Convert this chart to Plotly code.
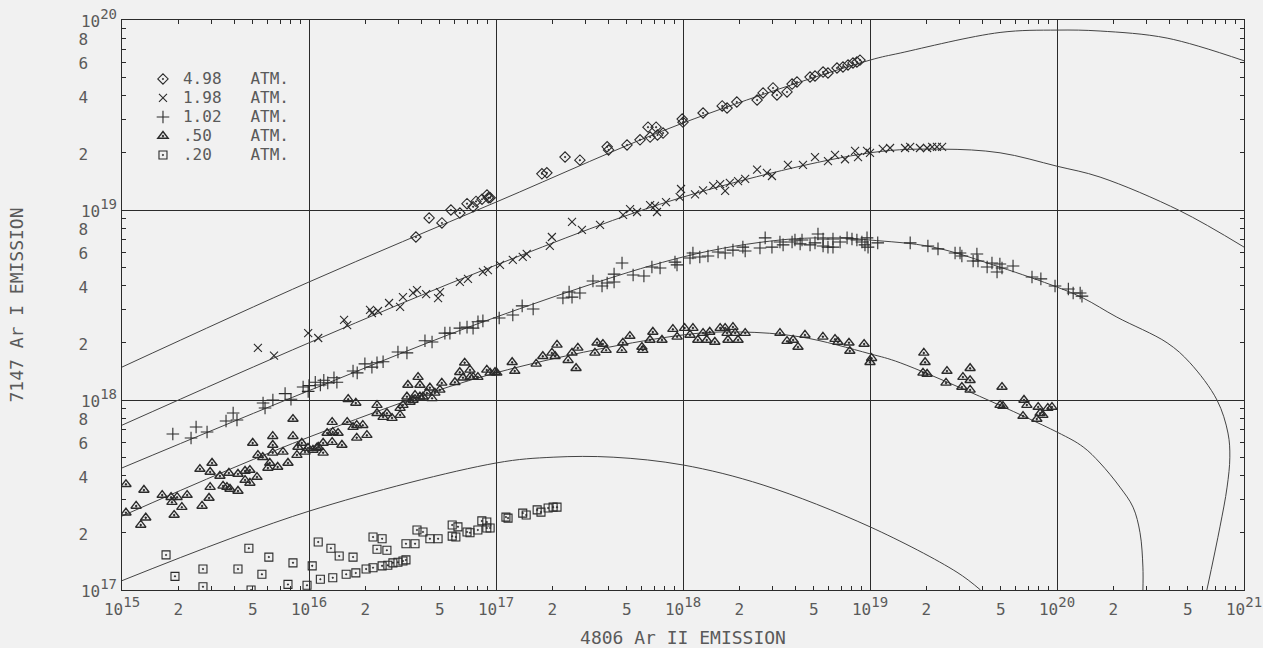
import plotly.graph_objects as go

INK = "#2b2b2b"
TXT = "#5a5a5a"
BG = "#f1f1f1"
FONT = "DejaVu Sans Mono"

# ---------------- measured points ----------------
x_498 = [3.73e16, 4.39e16, 5.14e16, 5.74e16, 6.41e16, 7.0e16, 7.54e16, 7.82e16, 8.42e16, 8.95e16,
         9.1e16, 9.3e16, 1.76e17, 1.87e17, 2.34e17, 2.81e17, 3.93e17, 4.0e17, 5.02e17, 5.89e17,
         6.5e17, 7.18e17, 6.67e17, 7.3e17, 7.82e17, 9.9e17, 1.0e18, 1.28e18, 1.62e18, 1.72e18,
         1.94e18, 2.49e18, 2.68e18, 3.03e18, 3.18e18, 3.6e18, 3.83e18, 4.07e18, 4.78e18, 5.08e18,
         5.61e18, 5.96e18, 6.66e18, 7.17e18, 7.63e18, 8.11e18, 8.51e18, 8.84e18]
y_498 = [7.21e18, 9.08e18, 8.55e18, 1.0e19, 9.64e18, 1.08e19, 1.04e19, 1.11e19, 1.14e19, 1.2e19,
         1.16e19, 1.16e19, 1.55e19, 1.57e19, 1.90e19, 1.83e19, 2.15e19, 2.07e19, 2.2e19, 2.34e19,
         2.73e19, 2.73e19, 2.42e19, 2.48e19, 2.54e19, 3.01e19, 2.9e19, 3.24e19, 3.53e19, 3.44e19,
         3.7e19, 3.79e19, 4.13e19, 4.39e19, 4.03e19, 4.18e19, 4.6e19, 4.72e19, 5.01e19, 5.07e19,
         5.32e19, 5.26e19, 5.59e19, 5.66e19, 5.8e19, 5.94e19, 6.01e19, 6.15e19]

x_198 = [5.33e15, 6.5e15, 9.9e15, 1.12e16, 1.54e16, 1.6e16, 2.12e16, 2.17e16, 2.34e16, 2.68e16,
         3.07e16, 3.18e16, 3.6e16, 3.78e16, 4.23e16, 4.9e16, 5.02e16, 6.41e16, 7.08e16, 8.51e16,
         9.05e16, 1.05e17, 1.23e17, 1.39e17, 1.46e17, 1.99e17, 1.94e17, 2.55e17, 2.88e17, 3.6e17,
         4.78e17, 5.21e17, 5.68e17, 6.67e17, 7.08e17, 7.26e17, 8.11e17, 9.76e17, 9.6e17, 1.16e18,
         1.28e18, 1.45e18, 1.58e18, 1.68e18, 1.78e18, 1.97e18, 2.15e18, 2.49e18, 2.81e18, 2.99e18,
         3.64e18, 4.38e18, 5.08e18, 5.96e18, 6.5e18, 7.35e18, 8.32e18, 8.63e18, 9.64e18, 1.0e19,
         1.17e19, 1.28e19, 1.54e19, 1.64e19, 1.85e19, 2.02e19, 2.15e19, 2.28e19, 2.43e19]
y_198 = [1.88e18, 1.71e18, 2.25e18, 2.12e18, 2.64e18, 2.48e18, 2.98e18, 2.87e18, 2.94e18, 3.24e18,
         3.09e18, 3.48e18, 3.66e18, 3.79e18, 3.61e18, 3.44e18, 3.7e18, 4.18e18, 4.34e18, 4.72e18,
         4.83e18, 5.14e18, 5.46e18, 5.66e18, 5.87e18, 7.21e18, 6.47e18, 8.65e18, 7.85e18, 8.34e18,
         9.42e18, 1.01e19, 9.76e18, 1.06e19, 1.05e19, 9.76e18, 1.10e19, 1.29e19, 1.17e19, 1.21e19,
         1.27e19, 1.34e19, 1.37e19, 1.26e19, 1.39e19, 1.42e19, 1.46e19, 1.63e19, 1.57e19, 1.51e19,
         1.73e19, 1.73e19, 1.9e19, 1.81e19, 1.95e19, 1.85e19, 2.05e19, 1.9e19, 2.05e19, 2.0e19,
         2.1e19, 2.12e19, 2.12e19, 2.15e19, 2.12e19, 2.12e19, 2.15e19, 2.15e19, 2.15e19]

x_102 = [1.87e15, 2.34e15, 2.49e15, 2.85e15, 3.6e15, 3.93e15, 4.12e15, 5.68e15, 5.82e15, 6.41e15,
         7.45e15, 8.01e15, 9.3e15, 9.9e15, 1.0e16, 1.08e16, 1.15e16, 1.2e16, 1.26e16, 1.36e16,
         1.41e16, 1.72e16, 1.81e16, 1.99e16, 2.17e16, 2.31e16, 2.49e16, 2.99e16, 3.34e16, 4.17e16,
         4.55e16, 5.33e16, 5.67e16, 6.41e16, 7.0e16, 7.54e16, 8.01e16, 8.51e16, 1.04e17, 1.23e17,
         1.38e17, 1.58e17, 2.28e17, 2.46e17, 2.55e17, 2.81e17, 3.3e17, 3.69e17, 3.93e17, 4.28e17,
         4.28e17, 4.72e17, 5.41e17, 6.18e17, 6.82e17, 7.54e17, 9.06e17, 9.29e17, 1.09e18, 1.13e18,
         1.23e18, 1.36e18, 1.54e18, 1.68e18, 1.85e18, 2.09e18, 2.15e18, 2.58e18, 2.75e18, 2.99e18,
         3.3e18, 3.43e18, 3.83e18, 3.97e18, 4.33e18, 4.23e18, 4.78e18, 5.08e18, 5.27e18, 5.61e18,
         5.61e18, 5.96e18, 6.34e18, 6.34e18, 6.92e18, 7.54e18, 8.01e18, 8.51e18, 9.05e18, 9.4e18,
         9.64e18, 9.76e18, 1.1e19, 1.64e19, 2.04e19, 2.31e19, 2.85e19, 3.03e19, 3.1e19, 3.73e19,
         3.56e19, 3.78e19, 4.49e19, 4.23e19, 4.78e19, 4.95e19, 5.08e19, 5.82e19, 7.35e19, 8.2e19,
         9.76e19, 1.15e20, 1.22e20, 1.33e20, 1.36e20]
y_102 = [6.62e17, 6.31e17, 7.21e17, 6.79e17, 7.75e17, 8.55e17, 7.85e17, 9.64e17, 9.08e17, 1.0e18,
         1.08e18, 1.01e18, 1.17e18, 1.11e18, 1.19e18, 1.24e18, 1.2e18, 1.27e18, 1.23e18, 1.31e18,
         1.24e18, 1.42e18, 1.39e18, 1.55e18, 1.49e18, 1.57e18, 1.59e18, 1.79e18, 1.77e18, 2.05e18,
         2.02e18, 2.25e18, 2.25e18, 2.39e18, 2.42e18, 2.39e18, 2.58e18, 2.61e18, 2.7e18, 2.8e18,
         3.13e18, 3.01e18, 3.44e18, 3.7e18, 3.48e18, 3.66e18, 4.23e18, 3.98e18, 4.13e18, 4.18e18,
         4.6e18, 5.26e18, 4.55e18, 4.49e18, 5.01e18, 4.95e18, 5.32e18, 5.14e18, 5.59e18, 5.94e18,
         5.66e18, 5.73e18, 6.01e18, 5.94e18, 6.15e18, 6.38e18, 6.08e18, 6.31e18, 7.13e18, 6.38e18,
         6.79e18, 6.55e18, 6.79e18, 6.95e18, 6.95e18, 6.63e18, 6.55e18, 6.71e18, 7.48e18, 7.04e18,
         6.47e18, 6.38e18, 7.04e18, 6.38e18, 6.79e18, 7.13e18, 7.04e18, 6.95e18, 6.79e18, 6.55e18,
         7.13e18, 6.38e18, 6.71e18, 6.71e18, 6.47e18, 6.24e18, 5.94e18, 5.94e18, 5.73e18, 5.87e18,
         5.39e18, 5.39e18, 5.26e18, 5.01e18, 4.72e18, 5.2e18, 4.95e18, 5.07e18, 4.44e18, 4.34e18,
         3.98e18, 3.84e18, 3.66e18, 3.66e18, 3.52e18]

x_050 = [1.05e15, 1.05e15, 1.19e15, 1.26e15, 1.31e15, 1.34e15, 1.64e15, 1.83e15, 1.85e15, 1.9e15,
         1.97e15, 2.09e15, 2.23e15, 2.61e15, 2.68e15, 2.96e15, 2.92e15, 2.96e15, 3.03e15, 3.34e15,
         3.47e15, 3.64e15, 3.78e15, 3.73e15, 4.17e15, 4.17e15, 4.55e15, 4.55e15, 4.83e15, 4.83e15,
         5.0e15, 5.27e15, 5.33e15, 5.66e15, 6.03e15, 6.17e15, 6.4e15, 6.4e15, 6.4e15, 6.8e15,
         7.26e15, 7.72e15, 8.21e15, 8.21e15, 8.62e15, 8.73e15, 9.15e15, 9.52e15, 9.88e15, 1.05e16,
         1.12e16, 1.1e16, 1.19e16, 1.19e16, 1.25e16, 1.33e16, 1.34e16, 1.43e16, 1.5e16, 1.6e16,
         1.8e16, 1.8e16, 2.04e16, 1.33e16, 1.62e16, 1.78e16, 1.72e16, 1.94e16, 2.31e16, 2.31e16,
         2.49e16, 2.61e16, 2.78e16, 3.07e16, 3.07e16, 3.18e16, 3.34e16, 3.38e16, 3.47e16, 3.6e16,
         3.69e16, 3.83e16, 3.92e16, 3.92e16, 4.07e16, 4.27e16, 4.43e16, 4.55e16, 4.71e16, 5.13e16,
         5.01e16, 6.03e16, 6.4e16, 6.66e16, 6.8e16, 7.26e16, 7.26e16, 7.55e16, 8.0e16, 8.93e16,
         9.3e16, 9.88e16, 1.01e17, 1.22e17, 1.26e17, 1.64e17, 1.78e17, 1.99e17, 2.07e17, 2.12e17,
         2.43e17, 2.55e17, 2.68e17, 2.74e17, 3.38e17, 3.47e17, 3.73e17, 3.88e17, 4.71e17, 4.77e17,
         5.2e17, 6.03e17, 6.1e17, 6.66e17, 6.9e17, 7.72e17, 8.83e17, 9.3e17, 1.02e18, 1.09e18,
         1.13e18, 1.2e18, 1.28e18, 1.34e18, 1.39e18, 1.48e18, 1.58e18, 1.68e18, 1.72e18, 1.74e18,
         1.85e18, 1.9e18, 1.97e18, 2.15e18, 3.3e18, 3.6e18, 3.88e18, 4.12e18, 4.49e18, 5.6e18,
         6.5e18, 6.74e18, 7.72e18, 7.8e18, 9.3e18, 1.0e19, 1.02e19, 1.94e19, 1.97e19, 1.92e19,
         2.02e19, 2.58e19, 2.55e19, 3.14e19, 3.1e19, 3.43e19, 3.43e19, 3.43e19, 5.08e19, 4.96e19,
         5.14e19, 6.66e19, 6.9e19, 6.58e19, 7.93e19, 8.12e19, 7.8e19, 8.4e19, 8.93e19, 9.4e19]
y_050 = [3.6e17, 2.55e17, 2.77e17, 2.2e17, 3.36e17, 2.4e17, 3.16e17, 3.08e17, 2.9e17, 2.48e17,
         3.08e17, 2.73e17, 3.16e17, 4.33e17, 2.77e17, 4.18e17, 3.05e17, 3.48e17, 4.66e17, 3.98e17,
         3.53e17, 3.48e17, 3.4e17, 4.13e17, 4.08e17, 3.32e17, 4.23e17, 3.79e17, 4.28e17, 3.66e17,
         5.94e17, 3.93e17, 5.13e17, 5.0e17, 4.39e17, 4.66e17, 6.45e17, 5.8e17, 5.27e17, 4.44e17,
         5.33e17, 4.66e17, 7.94e17, 6.45e17, 5.13e17, 5.66e17, 5.94e17, 5.33e17, 5.59e17, 5.46e17,
         5.66e17, 5.59e17, 5.27e17, 5.94e17, 6.7e17, 6.0e17, 6.78e17, 6.7e17, 5.8e17, 7.65e17,
         6.32e17, 7.37e17, 6.53e17, 7.65e17, 1.01e18, 9.65e17, 7.2e17, 7.37e17, 9.4e17, 8.52e17,
         8.13e17, 8.52e17, 8.03e17, 8.33e17, 9.06e17, 9.4e17, 1.04e18, 1.2e18, 9.76e17, 1.0e18,
         1.06e18, 1.32e18, 1.2e18, 1.04e18, 1.04e18, 1.09e18, 1.16e18, 1.02e18, 1.09e18, 1.23e18,
         1.13e18, 1.24e18, 1.4e18, 1.31e18, 1.57e18, 1.44e18, 1.32e18, 1.32e18, 1.32e18, 1.44e18,
         1.39e18, 1.4e18, 1.39e18, 1.58e18, 1.42e18, 1.55e18, 1.7e18, 1.77e18, 1.7e18, 1.95e18,
         1.62e18, 1.77e18, 1.47e18, 1.88e18, 1.77e18, 2.0e18, 1.97e18, 1.83e18, 1.83e18, 2.0e18,
         2.17e18, 1.9e18, 1.83e18, 2.07e18, 2.28e18, 2.07e18, 2.36e18, 2.15e18, 2.39e18, 2.2e18,
         2.39e18, 2.07e18, 2.25e18, 2.07e18, 2.28e18, 2.02e18, 2.39e18, 2.39e18, 2.25e18, 2.07e18,
         2.42e18, 2.25e18, 2.07e18, 2.25e18, 2.25e18, 2.04e18, 2.07e18, 1.9e18, 2.2e18, 2.15e18,
         2.09e18, 2.02e18, 2.0e18, 1.81e18, 1.97e18, 1.58e18, 1.66e18, 1.77e18, 1.58e18, 1.39e18,
         1.37e18, 1.42e18, 1.23e18, 1.32e18, 1.17e18, 1.47e18, 1.27e18, 1.13e18, 1.17e18, 9.4e17,
         9.29e17, 1.0e18, 9.4e17, 8.23e17, 9.18e17, 8.52e17, 7.94e17, 8.33e17, 9.06e17, 9.18e17]

x_020 = [1.72e15, 1.92e15, 2.71e15, 2.71e15, 4.17e15, 4.77e15, 4.9e15, 5.6e15, 6.1e15, 7.72e15,
         8.21e15, 9.76e15, 1.04e16, 1.12e16, 1.15e16, 1.31e16, 1.34e16, 1.45e16, 1.58e16, 1.72e16,
         1.78e16, 2.02e16, 2.2e16, 2.2e16, 2.31e16, 2.46e16, 2.46e16, 2.61e16, 2.64e16, 2.81e16,
         2.99e16, 3.18e16, 3.3e16, 3.3e16, 3.69e16, 3.78e16, 4.07e16, 4.43e16, 4.9e16, 5.83e16,
         5.83e16, 6.1e16, 6.26e16, 7.0e16, 7.26e16, 8.0e16, 8.4e16, 8.93e16, 8.93e16, 9.3e16,
         1.13e17, 1.16e17, 1.39e17, 1.45e17, 1.66e17, 1.74e17, 1.9e17, 2.02e17, 2.12e17]
y_020 = [1.53e17, 1.18e17, 1.29e17, 1.04e17, 1.29e17, 1.66e17, 1.0e17, 1.21e17, 1.49e17, 1.07e17,
         1.39e17, 1.06e17, 1.34e17, 1.79e17, 1.14e17, 1.66e17, 1.16e17, 1.51e17, 1.21e17, 1.49e17,
         1.23e17, 1.29e17, 1.9e17, 1.31e17, 1.64e17, 1.86e17, 1.34e17, 1.62e17, 1.35e17, 1.39e17,
         1.4e17, 1.42e17, 1.44e17, 1.75e17, 1.75e17, 2.07e17, 2.02e17, 1.86e17, 1.86e17, 2.2e17,
         1.92e17, 1.9e17, 2.15e17, 2.02e17, 2.0e17, 2.07e17, 2.31e17, 2.28e17, 2.12e17, 2.12e17,
         2.42e17, 2.39e17, 2.54e17, 2.48e17, 2.64e17, 2.57e17, 2.7e17, 2.73e17, 2.73e17]

# ---------------- theoretical curves ----------------
curve_498_x = [1e15, 1.0e16, 1e17, 1e18, 1e19, 1.45e19, 4.96e19, 1e20, 1.7e20, 3.88e20, 1e21]
curve_498_y = [1.49e18, 4.18e18, 1.1e19, 2.87e19, 6.15e19, 6.7e19, 8.6e19, 8.85e19, 8.75e19, 8.03e19, 6.1e19]

curve_198_x = [1e15, 1e16, 1e17, 1e18, 1e19, 2.43e19, 4.96e19, 1e20, 1.7e20, 4.55e20, 1e21]
curve_198_y = [7.37e17, 2.0e18, 5.13e18, 1.17e19, 2.0e19, 2.09e19, 2.0e19, 1.7e19, 1.49e19, 9.9e18, 6.38e18]

curve_102_x = [1e15, 1e16, 1e17, 1e18, 3.3e18, 6.9e18, 1e19, 2.17e19, 4.96e19, 1e20, 1.38e20,
               2.09e20, 3.88e20, 5.14e20, 7.17e20, 8.21e20, 8.4e20, 8.12e20, 7.44e20, 6.33e20]
curve_102_y = [4.39e17, 1.12e18, 2.73e18, 5.66e18, 6.95e18, 7.13e18, 6.95e18, 6.38e18, 5.0e18, 3.93e18, 3.44e18,
               2.73e18, 2.0e18, 1.57e18, 1.0e18, 6.7e17, 5.0e17, 3.48e17, 2.15e17, 1.0e17]

curve_050_x = [1e15, 1e16, 1e17, 1e18, 2.02e18, 4.23e18, 1e19, 1.45e19, 1e20, 1.38e20, 1.7e20,
               2.17e20, 2.55e20, 2.78e20, 2.88e20, 2.88e20]
curve_050_y = [2.45e17, 6.38e17, 1.39e18, 2.2e18, 2.28e18, 2.15e18, 1.75e18, 1.57e18, 6.78e17, 5.66e17, 4.66e17,
               3.48e17, 2.73e17, 2.0e17, 1.32e17, 1.0e17]

curve_020_x = [1e15, 1e16, 1e17, 2.02e17, 4.23e17, 1e18, 2.68e18, 1e19, 2.92e19, 3.9e19]
curve_020_y = [1.12e17, 2.6e17, 4.66e17, 5.0e17, 5.0e17, 4.55e17, 3.57e17, 2.15e17, 1.24e17, 1.0e17]

series_values = ["4.98", "1.98", "1.02", ".50", ".20"]
series_unit = "ATM."

# ---------------- figure ----------------
fig = go.Figure()

for cx, cy in [(curve_498_x, curve_498_y), (curve_198_x, curve_198_y), (curve_102_x, curve_102_y),
               (curve_050_x, curve_050_y), (curve_020_x, curve_020_y)]:
    fig.add_trace(go.Scatter(x=cx, y=cy, mode="lines", showlegend=False, hoverinfo="skip",
                             line=dict(color="#444444", width=1, shape="spline", smoothing=1.0)))

NB = "\u00a0"
styles = [("diamond-open-dot", 8, 1.1), ("x-thin-open", 8, 1.1), ("cross-thin-open", 9, 1.1),
          ("triangle-up-open-dot", 9, 1.4), ("square-open-dot", 8, 1.1)]
for (sx, sy), val, (sym, size, lw) in zip(
        [(x_498, y_498), (x_198, y_198), (x_102, y_102), (x_050, y_050), (x_020, y_020)],
        series_values, styles):
    label = val + NB * (7 - len(val)) + series_unit
    fig.add_trace(go.Scatter(x=sx, y=sy, mode="markers",
                             name=f"<span style='font-size:16px'>{label}</span>",
                             marker=dict(symbol=sym, size=size, color=INK,
                                         line=dict(color=INK, width=lw))))

# overlay axes carrying the decade grid
fig.add_trace(go.Scatter(x=[], y=[], xaxis="x2", yaxis="y2", showlegend=False, hoverinfo="skip"))

x_decades = list(range(15, 22))
y_decades = list(range(17, 21))


def sup_label(d):
    return f"<span style='font-size:16px'>10</span><sup>{d}</sup>"


def plain_label(s):
    return f"<span style='font-size:16px'>{s}</span>"


x_tickvals, x_ticktext, x_minor = [], [], []
for d in x_decades:
    x_tickvals.append(10.0 ** d)
    x_ticktext.append(sup_label(d))
    if d == x_decades[-1]:
        break
    for m in range(2, 10):
        if m in (2, 5):
            x_tickvals.append(m * 10.0 ** d)
            x_ticktext.append(plain_label(str(m)))
        else:
            x_minor.append(m * 10.0 ** d)

y_tickvals, y_ticktext, y_minor = [], [], []
for d in y_decades:
    y_tickvals.append(10.0 ** d)
    y_ticktext.append(sup_label(d))
    if d == y_decades[-1]:
        break
    for m in range(2, 10):
        if m in (2, 4, 6, 8):
            y_tickvals.append(m * 10.0 ** d)
            y_ticktext.append(plain_label(str(m) + NB * 3))
        else:
            y_minor.append(m * 10.0 ** d)

tickfont = dict(family=FONT, size=20, color=TXT)
titlefont = dict(family=FONT, size=18, color=TXT)

common = dict(type="log", tickmode="array", ticks="inside", ticklen=4, tickwidth=1, tickcolor=INK,
              showgrid=False, zeroline=False, showline=True, linecolor=INK, linewidth=1,
              mirror="ticks", tickfont=tickfont, automargin=False)

fig.update_layout(
    width=1263, height=648,
    margin=dict(l=122, r=19, t=20, b=58, autoexpand=False),
    paper_bgcolor=BG, plot_bgcolor=BG,
    font=dict(family=FONT, color=TXT),
    xaxis=dict(common, range=[15, 21], tickvals=x_tickvals, ticktext=x_ticktext,
               minor=dict(tickmode="array", tickvals=x_minor, ticks="inside", ticklen=4,
                          tickcolor=INK, showgrid=False),
               title=dict(text="4806 Ar II EMISSION", font=titlefont, standoff=14)),
    yaxis=dict(common, range=[17, 20], tickvals=y_tickvals, ticktext=y_ticktext,
               minor=dict(tickmode="array", tickvals=y_minor, ticks="inside", ticklen=4,
                          tickcolor=INK, showgrid=False),
               title=dict(text="7147 Ar I EMISSION", font=titlefont, standoff=50)),
    xaxis2=dict(type="log", range=[15, 21], overlaying="x", anchor="y", tickmode="array",
                tickvals=[10.0 ** d for d in x_decades], showgrid=True, gridcolor=INK, gridwidth=1,
                showticklabels=False, ticks="", zeroline=False, showline=False, automargin=False),
    yaxis2=dict(type="log", range=[17, 20], overlaying="y", anchor="x", tickmode="array",
                tickvals=[10.0 ** d for d in y_decades], showgrid=True, gridcolor=INK, gridwidth=1,
                showticklabels=False, ticks="", zeroline=False, showline=False, automargin=False),
    legend=dict(x=0.0187, y=0.922, xanchor="left", yanchor="top", bgcolor="rgba(0,0,0,0)",
                font=dict(family=FONT, size=12.3, color=TXT), tracegroupgap=0, itemwidth=30),
    showlegend=True,
)

fig.write_html("out.html")
